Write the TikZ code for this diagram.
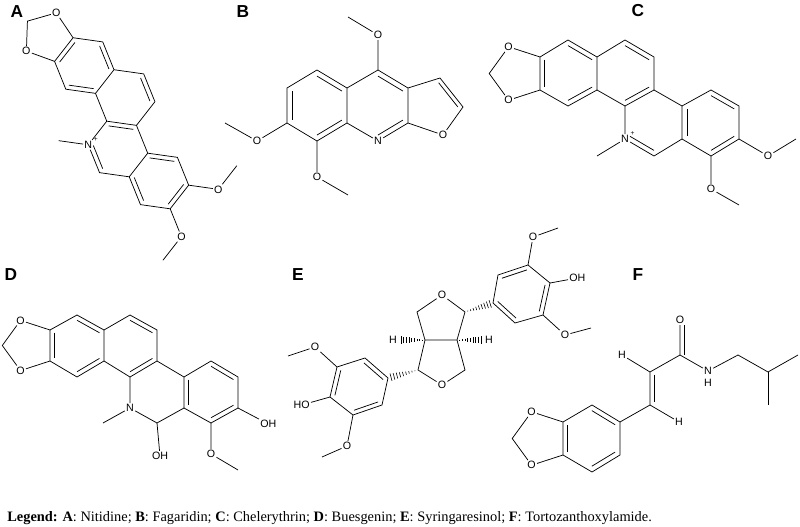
\documentclass[tikz,border=0pt]{standalone}
\usepackage{fontspec}
\setmainfont{Liberation Serif}
\setsansfont{Liberation Sans}
\usetikzlibrary{calc}
\newcommand\dbl[3]{\draw ($(#1)!.17!(#3)$) -- ($(#2)!.17!(#3)$);}
\newcommand\hashbond[2]{\foreach \tq in {0.1,0.2,...,0.95}{\pgfmathsetmacro\hw{\tq*3.2}\draw[line width=.45pt] ($(#1)!\tq!(#2)!\hw pt!90:(#2)$) -- ($(#1)!\tq!(#2)!\hw pt!-90:(#2)$);}}
\newcommand\lab{\sffamily\fontsize{8}{9}\selectfont}
\newcommand\panlab{\sffamily\bfseries\fontsize{13}{14}\selectfont}
\begin{document}
\begin{tikzpicture}[x=0.75pt,y=0.75pt,line width=.55pt,
  atom/.style={inner sep=0.7pt,font=\lab},
  panel/.style={font=\panlab,inner sep=0pt},
  plus/.style={label={[font=\sffamily\fontsize{5}{5}\selectfont,inner sep=0pt]30:+}}]
\fill[white] (0,0) rectangle (800,-527);
\useasboundingbox (0,0) rectangle (800,-527);
% panel letters
\node[panel] (LA) at (17,-12) {A};
\node[panel] (LB) at (243,-12) {B};
\node[panel] (LC) at (638,-11) {C};
\node[panel] (LD) at (11,-275) {D};
\node[panel] (LE) at (298,-275) {E};
\node[panel] (LF) at (638,-275) {F};
% ================= A
\begin{scope}[shift={(118,-149)},rotate=-8,x={(22.5pt,0pt)},y={(11.25pt,19.486pt)}]
\coordinate (Aa1) at (-2,3); \coordinate (Aa2) at (-3,4); \coordinate (Aa3) at (-4,4);
\coordinate (Aa4) at (-4,3); \coordinate (Aa5) at (-3,2); \coordinate (Aa6) at (-2,2);
\coordinate (At1) at (-1,3); \coordinate (At2) at (0,2); \coordinate (At3) at (0,1); \coordinate (At4) at (-1,1);
\coordinate (An1) at (0,-1); \coordinate (An2) at (1,-1); \coordinate (An3) at (1,0);
\coordinate (Ar1) at (2,0); \coordinate (Ar2) at (3,-1); \coordinate (Ar3) at (3,-2); \coordinate (Ar4) at (2,-2);
\coordinate (AcL) at (-3,3); \coordinate (AcT) at (-1,2); \coordinate (AcN) at (0,0); \coordinate (AcR) at (2,-1);
\node[atom,plus] (AN) at (-1,0) {N};
\coordinate (ANMe) at (-2,0);
\node[atom] (AO1) at (4,-1) {O}; \coordinate (AMe1) at (4,0);
\node[atom] (AO2) at (4,-3) {O}; \coordinate (AMe2) at (4,-4);
\end{scope}
\path ($(Aa3)!1!-108:(Aa4)$) node[atom] (AOa) {O};
\path ($(Aa4)!1!108:(Aa3)$) node[atom] (AOb) {O};
\coordinate (ACH) at ($(AOa)!1!-108:(Aa3)$);
\draw (Aa1)--(Aa2)--(Aa3)--(Aa4)--(Aa5)--(Aa6)--cycle;
\draw (Aa1)--(At1)--(At2)--(At3)--(At4)--(Aa6);
\draw (At4)--(AN)--(An1)--(An2)--(An3)--(At3);
\draw (An3)--(Ar1)--(Ar2)--(Ar3)--(Ar4)--(An2);
\draw (Ar2)--(AO1)--(AMe1);
\draw (Ar3)--(AO2)--(AMe2);
\draw (AN)--(ANMe);
\draw (Aa3)--(AOa)--(ACH)--(AOb)--(Aa4);
\dbl{Aa3}{Aa4}{AcL}\dbl{Aa2}{Aa1}{AcL}\dbl{Aa5}{Aa6}{AcL}
\dbl{At1}{At2}{AcT}\dbl{At3}{At4}{AcN}\dbl{AN}{An1}{AcN}
\dbl{An3}{Ar1}{AcR}\dbl{Ar2}{Ar3}{AcR}\dbl{Ar4}{An2}{AcR}
% ================= B
\coordinate (Bp1) at (347,-88); \coordinate (Bp2) at (317,-70); \coordinate (Bp3) at (287,-88);
\coordinate (Bp4) at (287,-123); \coordinate (Bp5) at (317,-141); \coordinate (Bp6) at (347,-123);
\coordinate (Bq1) at (378,-70); \coordinate (Bq2) at (408,-88); \coordinate (Bq3) at (408,-123);
\node[atom] (BN) at (378,-141) {N};
\coordinate (Bf1) at (440,-78); \coordinate (Bf2) at (463,-107);
\node[atom] (BOf) at (443,-135) {O};
\node[atom] (BO4) at (378,-35) {O}; \coordinate (BMe4) at (348,-17);
\node[atom] (BO7) at (257,-141) {O}; \coordinate (BMe7) at (225,-123);
\node[atom] (BO8) at (317,-177) {O}; \coordinate (BMe8) at (348,-195);
\coordinate (Bc1) at (317,-106); \coordinate (Bc2) at (378,-106); \coordinate (Bc3) at (432,-106);
\draw (Bp1)--(Bp2)--(Bp3)--(Bp4)--(Bp5)--(Bp6)--cycle;
\draw (Bp1)--(Bq1)--(Bq2)--(Bq3)--(BN)--(Bp6);
\draw (Bq2)--(Bf1)--(Bf2)--(BOf)--(Bq3);
\draw (Bq1)--(BO4)--(BMe4);
\draw (Bp4)--(BO7)--(BMe7);
\draw (Bp5)--(BO8)--(BMe8);
\dbl{Bp1}{Bp2}{Bc1}\dbl{Bp3}{Bp4}{Bc1}\dbl{Bp5}{Bp6}{Bc1}
\dbl{Bq1}{Bq2}{Bc2}\dbl{BN}{Bq3}{Bc2}\dbl{Bf1}{Bf2}{Bc3}
% ================= C
\coordinate (Cc1) at (540,-57); \coordinate (Cc2) at (568,-40); \coordinate (Cc3) at (597,-57);
\coordinate (Cc4) at (597,-90); \coordinate (Cc5) at (568,-106); \coordinate (Cc6) at (540,-90);
\coordinate (Cd1) at (625,-40); \coordinate (Cd2) at (654,-57); \coordinate (Cd3) at (654,-90); \coordinate (Cd4) at (625,-106);
\coordinate (Ce1) at (682,-106); \coordinate (Ce2) at (682,-139); \coordinate (CCH) at (654,-156);
\node[atom,plus] (CN) at (625,-139) {N}; \coordinate (CNMe) at (597,-156);
\coordinate (Cg1) at (711,-90); \coordinate (Cg2) at (739,-106); \coordinate (Cg3) at (739,-139); \coordinate (Cg4) at (711,-156);
\node[atom] (CO1) at (768,-156) {O}; \coordinate (CMe1) at (796,-139);
\node[atom] (CO2) at (711,-189) {O}; \coordinate (CMe2) at (739,-205);
\coordinate (Cx1) at (568,-73); \coordinate (Cx2) at (625,-73); \coordinate (Cx3) at (654,-123); \coordinate (Cx4) at (711,-123);
\path ($(Cc1)!1!-108:(Cc6)$) node[atom] (COa) {O};
\path ($(Cc6)!1!108:(Cc1)$) node[atom] (COb) {O};
\coordinate (CCH2) at ($(COa)!1!-108:(Cc1)$);
\draw (Cc1)--(Cc2)--(Cc3)--(Cc4)--(Cc5)--(Cc6)--cycle;
\draw (Cc3)--(Cd1)--(Cd2)--(Cd3)--(Cd4)--(Cc4);
\draw (Cd4)--(CN)--(CCH)--(Ce2)--(Ce1)--(Cd3);
\draw (Ce1)--(Cg1)--(Cg2)--(Cg3)--(Cg4)--(Ce2);
\draw (Cg3)--(CO1)--(CMe1);
\draw (Cg4)--(CO2)--(CMe2);
\draw (CN)--(CNMe);
\draw (Cc1)--(COa)--(CCH2)--(COb)--(Cc6);
\dbl{Cc1}{Cc6}{Cx1}\dbl{Cc2}{Cc3}{Cx1}\dbl{Cc4}{Cc5}{Cx1}
\dbl{Cd1}{Cd2}{Cx2}\dbl{Cd3}{Cd4}{Cx2}
\dbl{CN}{CCH}{Cx3}\dbl{Ce1}{Ce2}{Cx4}
\dbl{Cg1}{Cg2}{Cx4}\dbl{Cg3}{Cg4}{Cx4}
% ================= D
\coordinate (Da1) at (50,-330); \coordinate (Da2) at (77,-315); \coordinate (Da3) at (104,-330);
\coordinate (Da4) at (104,-361); \coordinate (Da5) at (77,-377); \coordinate (Da6) at (50,-361);
\coordinate (Db1) at (130,-315); \coordinate (Db2) at (157,-330); \coordinate (Db3) at (157,-361); \coordinate (Db4) at (130,-377);
\coordinate (Dc1) at (184,-377); \coordinate (Dc2) at (184,-408); \coordinate (DCH) at (157,-423);
\node[atom] (DN) at (130,-408) {N}; \coordinate (DNMe) at (103,-423);
\coordinate (Dr1) at (211,-361); \coordinate (Dr2) at (238,-377); \coordinate (Dr3) at (238,-408); \coordinate (Dr4) at (211,-423);
\node[atom,anchor=west] (DOH) at (259,-424) {OH};
\node[atom] (DOH2) at (160,-456) {OH};
\node[atom] (DO) at (211,-454) {O}; \coordinate (DMe) at (238,-470);
\coordinate (Dx1) at (77,-346); \coordinate (Dx2) at (130,-346); \coordinate (Dx4) at (211,-392);
\path ($(Da1)!1!-108:(Da6)$) node[atom] (DOa) {O};
\path ($(Da6)!1!108:(Da1)$) node[atom] (DOb) {O};
\coordinate (DCH2) at ($(DOa)!1!-108:(Da1)$);
\draw (Da1)--(Da2)--(Da3)--(Da4)--(Da5)--(Da6)--cycle;
\draw (Da3)--(Db1)--(Db2)--(Db3)--(Db4)--(Da4);
\draw (Db4)--(DN)--(DCH)--(Dc2)--(Dc1)--(Db3);
\draw (Dc1)--(Dr1)--(Dr2)--(Dr3)--(Dr4)--(Dc2);
\draw (Dr3)--(DOH);
\draw (DCH)--(DOH2);
\draw (Dr4)--(DO)--(DMe);
\draw (DN)--(DNMe);
\draw (Da1)--(DOa)--(DCH2)--(DOb)--(Da6);
\dbl{Da1}{Da6}{Dx1}\dbl{Da2}{Da3}{Dx1}\dbl{Da4}{Da5}{Dx1}
\dbl{Db1}{Db2}{Dx2}\dbl{Db3}{Db4}{Dx2}
\dbl{Dc1}{Dc2}{Dx4}\dbl{Dr1}{Dr2}{Dx4}\dbl{Dr3}{Dr4}{Dx4}
% ================= E
\node[atom] (EOt) at (442,-295) {O};
\coordinate (ECt1) at (417,-312); \coordinate (EJl) at (425,-340); \coordinate (EJr) at (457,-340); \coordinate (ECt2) at (465,-312);
\coordinate (ECb1) at (418,-370); \node[atom] (EOb) at (442,-385) {O}; \coordinate (ECb2) at (465,-370);
\node[atom] (EHl) at (393,-340) {H}; \node[atom] (EHr) at (489,-340) {H};
\coordinate (El1) at (388,-378); \coordinate (El2) at (365,-358); \coordinate (El3) at (337,-367);
\coordinate (El4) at (330,-397); \coordinate (El5) at (353,-415); \coordinate (El6) at (382,-405);
\coordinate (Elc) at (359,-387);
\node[atom] (EOL1) at (315,-347) {O}; \coordinate (EMeL1) at (288,-356);
\node[atom,anchor=east] (EHO) at (311,-405) {HO};
\node[atom] (EOL2) at (347,-446) {O}; \coordinate (EMeL2) at (322,-457);
\coordinate (Er1) at (493,-303); \coordinate (Er2) at (498,-275); \coordinate (Er3) at (528,-265);
\coordinate (Er4) at (550,-283); \coordinate (Er5) at (543,-315); \coordinate (Er6) at (515,-323);
\coordinate (Erc) at (521,-294);
\node[atom] (EOR1) at (533,-237) {O}; \coordinate (EMeR1) at (558,-228);
\node[atom,anchor=west] (EOH) at (568,-278) {OH};
\node[atom] (EOR2) at (565,-335) {O}; \coordinate (EMeR2) at (591,-328);
\draw (EOt)--(ECt1)--(EJl)--(EJr)--(ECt2)--(EOt);
\draw (EJl)--(ECb1)--(EOb)--(ECb2)--(EJr);
\draw (El1)--(El2)--(El3)--(El4)--(El5)--(El6)--cycle;
\draw (Er1)--(Er2)--(Er3)--(Er4)--(Er5)--(Er6)--cycle;
\draw (El3)--(EOL1)--(EMeL1);
\draw (El4)--(EHO);
\draw (El5)--(EOL2)--(EMeL2);
\draw (Er3)--(EOR1)--(EMeR1);
\draw (Er4)--(EOH);
\draw (Er5)--(EOR2)--(EMeR2);
\dbl{El2}{El1}{Elc}\dbl{El3}{El4}{Elc}\dbl{El5}{El6}{Elc}
\dbl{Er2}{Er3}{Erc}\dbl{Er4}{Er5}{Erc}\dbl{Er6}{Er1}{Erc}
\hashbond{ECt2}{Er1}
\hashbond{ECb1}{El1}
\hashbond{EJl}{EHl.east}
\hashbond{EJr}{EHr.west}
% ================= F
\node[atom] (FO) at (680,-320) {O};
\coordinate (FC) at (680,-355);
\node[atom] (FN) at (708,-371) {N};
\node[atom] (FNH) at (708,-383) {H};
\coordinate (FCH2) at (738,-355); \coordinate (FCH) at (768,-372);
\coordinate (FMe1) at (798,-355); \coordinate (FMe2) at (768,-405);
\coordinate (FCa) at (650,-372); \coordinate (FCb) at (650,-405);
\node[atom] (FHa) at (622,-355) {H}; \node[atom] (FHb) at (679,-422) {H};
\coordinate (Fr1) at (592,-405); \coordinate (Fr2) at (620,-422); \coordinate (Fr3) at (620,-455);
\coordinate (Fr4) at (592,-472); \coordinate (Fr5) at (563,-455); \coordinate (Fr6) at (563,-422);
\coordinate (Frc) at (591,-438); \coordinate (Fac) at (676,-388);
\path ($(Fr6)!1!-108:(Fr5)$) node[atom] (FOa) {O};
\path ($(Fr5)!1!108:(Fr6)$) node[atom] (FOb) {O};
\coordinate (FCH2d) at ($(FOa)!1!-108:(Fr6)$);
\draw (FO)--(FC)--(FN)--(FCH2)--(FCH)--(FMe1);
\draw (FCH)--(FMe2);
\draw ($(FC)+(4,0)$)--($(FO.south)+(4,0)$);
\draw (FC)--(FCa)--(FCb)--(Fr2);
\draw (FCa)--(FHa); \draw (FCb)--(FHb);
\dbl{FCa}{FCb}{Fac}
\draw (Fr1)--(Fr2)--(Fr3)--(Fr4)--(Fr5)--(Fr6)--cycle;
\draw (Fr6)--(FOa)--(FCH2d)--(FOb)--(Fr5);
\dbl{Fr1}{Fr2}{Frc}\dbl{Fr3}{Fr4}{Frc}\dbl{Fr5}{Fr6}{Frc}
% legend
\node[anchor=west,inner sep=0pt,font=\fontsize{10.8}{12}\selectfont] (leg) at (7,-518)
 {\textbf{Legend:} \textbf{A}: Nitidine; \textbf{B}: Fagaridin; \textbf{C}: Chelerythrin; \textbf{D}: Buesgenin; \textbf{E}: Syringaresinol; \textbf{F}: Tortozanthoxylamide.};
\end{tikzpicture}
\end{document}
